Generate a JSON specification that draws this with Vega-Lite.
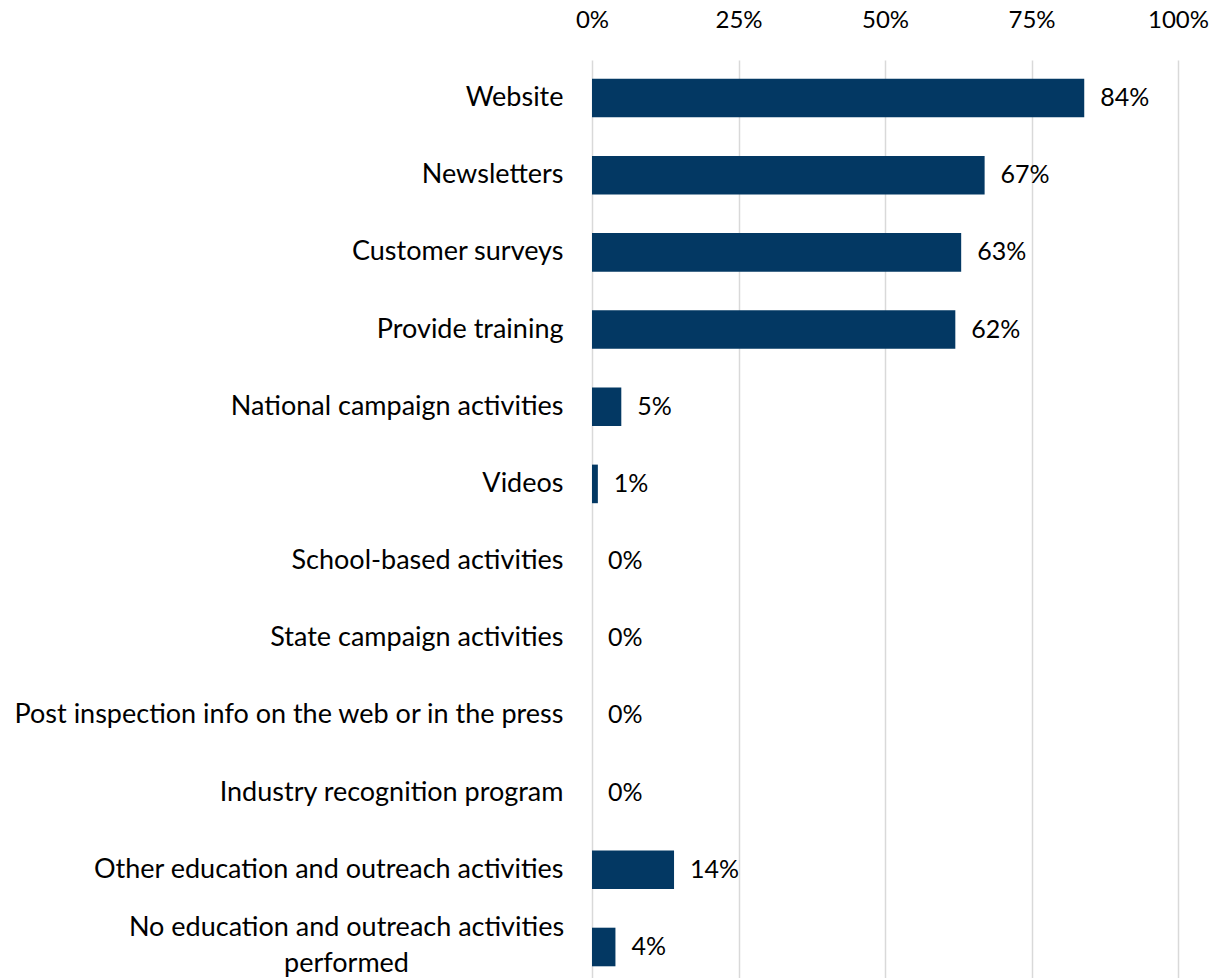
{
  "$schema": "https://vega.github.io/schema/vega-lite/v6.json",
  "width": 586,
  "height": 918,
  "autosize": "none",
  "padding": {"left": 592, "top": 60, "right": 40, "bottom": 0},
  "background": "white",
  "config": {"view": {"stroke": null}, "font": "Lato"},
  "data": {
    "values": [
      {"activity": "Website", "share": 0.84},
      {"activity": "Newsletters", "share": 0.67},
      {"activity": "Customer surveys", "share": 0.63},
      {"activity": "Provide training", "share": 0.62},
      {"activity": "National campaign activities", "share": 0.05},
      {"activity": "Videos", "share": 0.01},
      {"activity": "School-based activities", "share": 0.0},
      {"activity": "State campaign activities", "share": 0.0},
      {"activity": "Post inspection info on the web or in the press", "share": 0.0},
      {"activity": "Industry recognition program", "share": 0.0},
      {"activity": "Other education and outreach activities", "share": 0.14},
      {"activity": "No education and outreach activities performed", "share": 0.04}
    ]
  },
  "encoding": {
    "y": {
      "field": "activity",
      "type": "nominal",
      "sort": null,
      "scale": {"paddingInner": 0.5, "paddingOuter": 0.197, "align": 0.615},
      "axis": {
        "title": null,
        "domain": false,
        "ticks": false,
        "labelFont": "Lato",
        "labelFontSize": 27,
        "labelColor": "#000000",
        "labelLimit": 700,
        "labelLineHeight": 36,
        "labelBaseline": "middle",
        "labelAlign": {"condition": {"test": "datum.value == 'No education and outreach activities performed'", "value": "center"}, "value": "right"},
        "labelPadding": {"condition": {"test": "datum.value == 'No education and outreach activities performed'", "value": 246}, "value": 29},
        "labelOffset": {"condition": {"test": "datum.value == 'No education and outreach activities performed'", "value": -19}, "value": 0},
        "labelExpr": "datum.value == 'No education and outreach activities performed' ? ['No education and outreach activities', 'performed'] : datum.value"
      }
    },
    "x": {
      "field": "share",
      "type": "quantitative",
      "scale": {"domain": [0, 1], "nice": false},
      "axis": {
        "orient": "top",
        "title": null,
        "format": ".0%",
        "values": [0, 0.25, 0.5, 0.75, 1],
        "domain": false,
        "ticks": false,
        "grid": true,
        "gridColor": "#d9d9d9",
        "gridWidth": 1.5,
        "labelPadding": 28,
        "labelFont": "Lato",
        "labelFontSize": 24,
        "labelColor": "#000000",
        "labelFlush": false
      }
    }
  },
  "layer": [
    {"mark": {"type": "bar", "color": "#033863"}},
    {
      "mark": {"type": "text", "align": "left", "baseline": "middle", "dx": 16, "font": "Lato", "fontSize": 25, "color": "#000000"},
      "encoding": {"text": {"field": "share", "type": "quantitative", "format": ".0%"}}
    }
  ]
}
